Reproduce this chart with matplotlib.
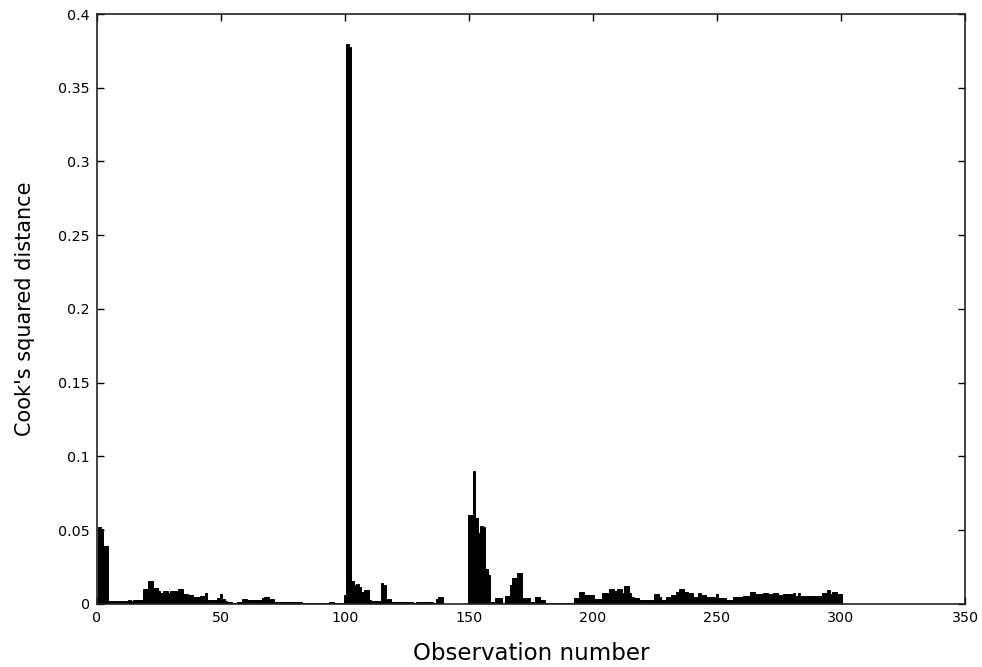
import matplotlib
matplotlib.use("Agg")
import matplotlib.pyplot as plt
import numpy as np

plt.rcParams['font.family'] = ['DejaVu Sans']

cooks_distance = [
    0.052, 0.051, 0.039, 0.039, 0.002, 0.002, 0.002, 0.002, 0.002, 0.002,
    0.002, 0.002, 0.003, 0.002, 0.0025, 0.0025, 0.0025, 0.0025, 0.010, 0.010,
    0.0155, 0.0155, 0.0105, 0.0105, 0.009, 0.0076, 0.0088, 0.0088, 0.0072, 0.0088,
    0.0088, 0.0085, 0.0101, 0.0101, 0.0068, 0.0068, 0.006, 0.006, 0.0045, 0.0045,
    0.0045, 0.0055, 0.0055, 0.0072, 0.003, 0.003, 0.003, 0.003, 0.004, 0.0068,
    0.0035, 0.0017, 0.001, 0.001, 0.0008, 0.0008, 0.001, 0.001, 0.0036, 0.0036,
    0.003, 0.003, 0.003, 0.003, 0.003, 0.003, 0.004, 0.0047, 0.0047, 0.0036,
    0.0036, 0.0015, 0.0015, 0.0015, 0.0015, 0.0015, 0.0015, 0.0015, 0.0015, 0.0015,
    0.0015, 0.0015, 0.0005, 0.0005, 0.0005, 0.0005, 0.0005, 0.0005, 0.0005, 0.0005,
    0.0005, 0.0005, 0.0005, 0.0012, 0.0012, 0.0004, 0.0004, 0.0004, 0.0004, 0.006,
    0.380, 0.3775, 0.0156, 0.0129, 0.0134, 0.0117, 0.0083, 0.0094, 0.0094, 0.003,
    0.0018, 0.0018, 0.0018, 0.0018, 0.014, 0.013, 0.0036, 0.0036, 0.0015, 0.0015,
    0.0015, 0.0015, 0.0015, 0.0015, 0.0015, 0.0015, 0.0015, 0.0008, 0.0012, 0.0012,
    0.0015, 0.0015, 0.0015, 0.0015, 0.0015, 0.0005, 0.0036, 0.005, 0.005, 0.0003,
    0.0003, 0.0003, 0.0003, 0.0003, 0.0003, 0.0003, 0.0003, 0.0003, 0.0003, 0.060,
    0.060, 0.090, 0.0585, 0.048, 0.053, 0.052, 0.0235, 0.0197, 0.0016, 0.0016,
    0.0038, 0.0038, 0.0038, 0.0005, 0.0054, 0.0054, 0.0129, 0.0174, 0.0174, 0.0208,
    0.0208, 0.0038, 0.0038, 0.0038, 0.0016, 0.0016, 0.005, 0.005, 0.003, 0.003,
    0.0008, 0.0008, 0.0008, 0.0008, 0.0008, 0.0008, 0.0008, 0.0008, 0.0008, 0.0008,
    0.0008, 0.0008, 0.0038, 0.0038, 0.0083, 0.0083, 0.006, 0.006, 0.006, 0.006,
    0.0032, 0.0032, 0.0032, 0.0072, 0.0072, 0.0072, 0.010, 0.010, 0.009, 0.010,
    0.010, 0.0072, 0.0122, 0.0122, 0.0072, 0.0045, 0.004, 0.004, 0.0027, 0.0027,
    0.0027, 0.0027, 0.0027, 0.0027, 0.0066, 0.0066, 0.0045, 0.003, 0.003, 0.0045,
    0.0045, 0.006, 0.006, 0.0084, 0.010, 0.010, 0.0084, 0.0084, 0.0072, 0.0072,
    0.005, 0.005, 0.0072, 0.006, 0.006, 0.0045, 0.0045, 0.0045, 0.0045, 0.0068,
    0.004, 0.004, 0.004, 0.003, 0.003, 0.003, 0.005, 0.005, 0.005, 0.005,
    0.0054, 0.0054, 0.0054, 0.0084, 0.0084, 0.0068, 0.0068, 0.0068, 0.0077, 0.0077,
    0.0068, 0.0068, 0.0077, 0.0077, 0.006, 0.006, 0.0068, 0.0068, 0.0068, 0.0068,
    0.0077, 0.0054, 0.0072, 0.0054, 0.0054, 0.0054, 0.0054, 0.0054, 0.0054, 0.0054,
    0.0054, 0.0054, 0.0077, 0.0077, 0.0095, 0.0068, 0.0084, 0.0084, 0.0068, 0.0068,
]
observations = list(range(1, len(cooks_distance) + 1))

x_ticks = [0, 50, 100, 150, 200, 250, 300, 350]
x_tick_labels = ['0', '50', '100', '150', '200', '250', '300', '350']
y_ticks = [0, 0.05, 0.1, 0.15, 0.2, 0.25, 0.3, 0.35, 0.4]
y_tick_labels = ['0', '0.05', '0.1', '0.15', '0.2', '0.25', '0.3', '0.35', '0.4']

fig = plt.figure(figsize=(9.82, 6.67), dpi=100)
ax = fig.add_axes([0.0988, 0.0945, 0.8839, 0.8845])

ax.bar(observations, cooks_distance, width=1.0, color='black',
       edgecolor='black', linewidth=0.7)

ax.set_xlim(0, 350)
ax.set_ylim(0, 0.4)
ax.set_xticks(x_ticks)
ax.set_xticklabels(x_tick_labels)
ax.set_yticks(y_ticks)
ax.set_yticklabels(y_tick_labels)
ax.tick_params(direction='in', length=5, width=1, top=True, right=True,
               labelsize=10.3, colors='black')
ax.tick_params(axis='x', pad=5)
ax.tick_params(axis='y', pad=5)
for s in ax.spines.values():
    s.set_linewidth(1.2)
    s.set_color('#222222')

ax.set_xlabel('Observation number', fontsize=16.5, labelpad=12)
ax.set_ylabel("Cook's squared distance", fontsize=15, labelpad=17)

fig.savefig('out.png', dpi=100)
